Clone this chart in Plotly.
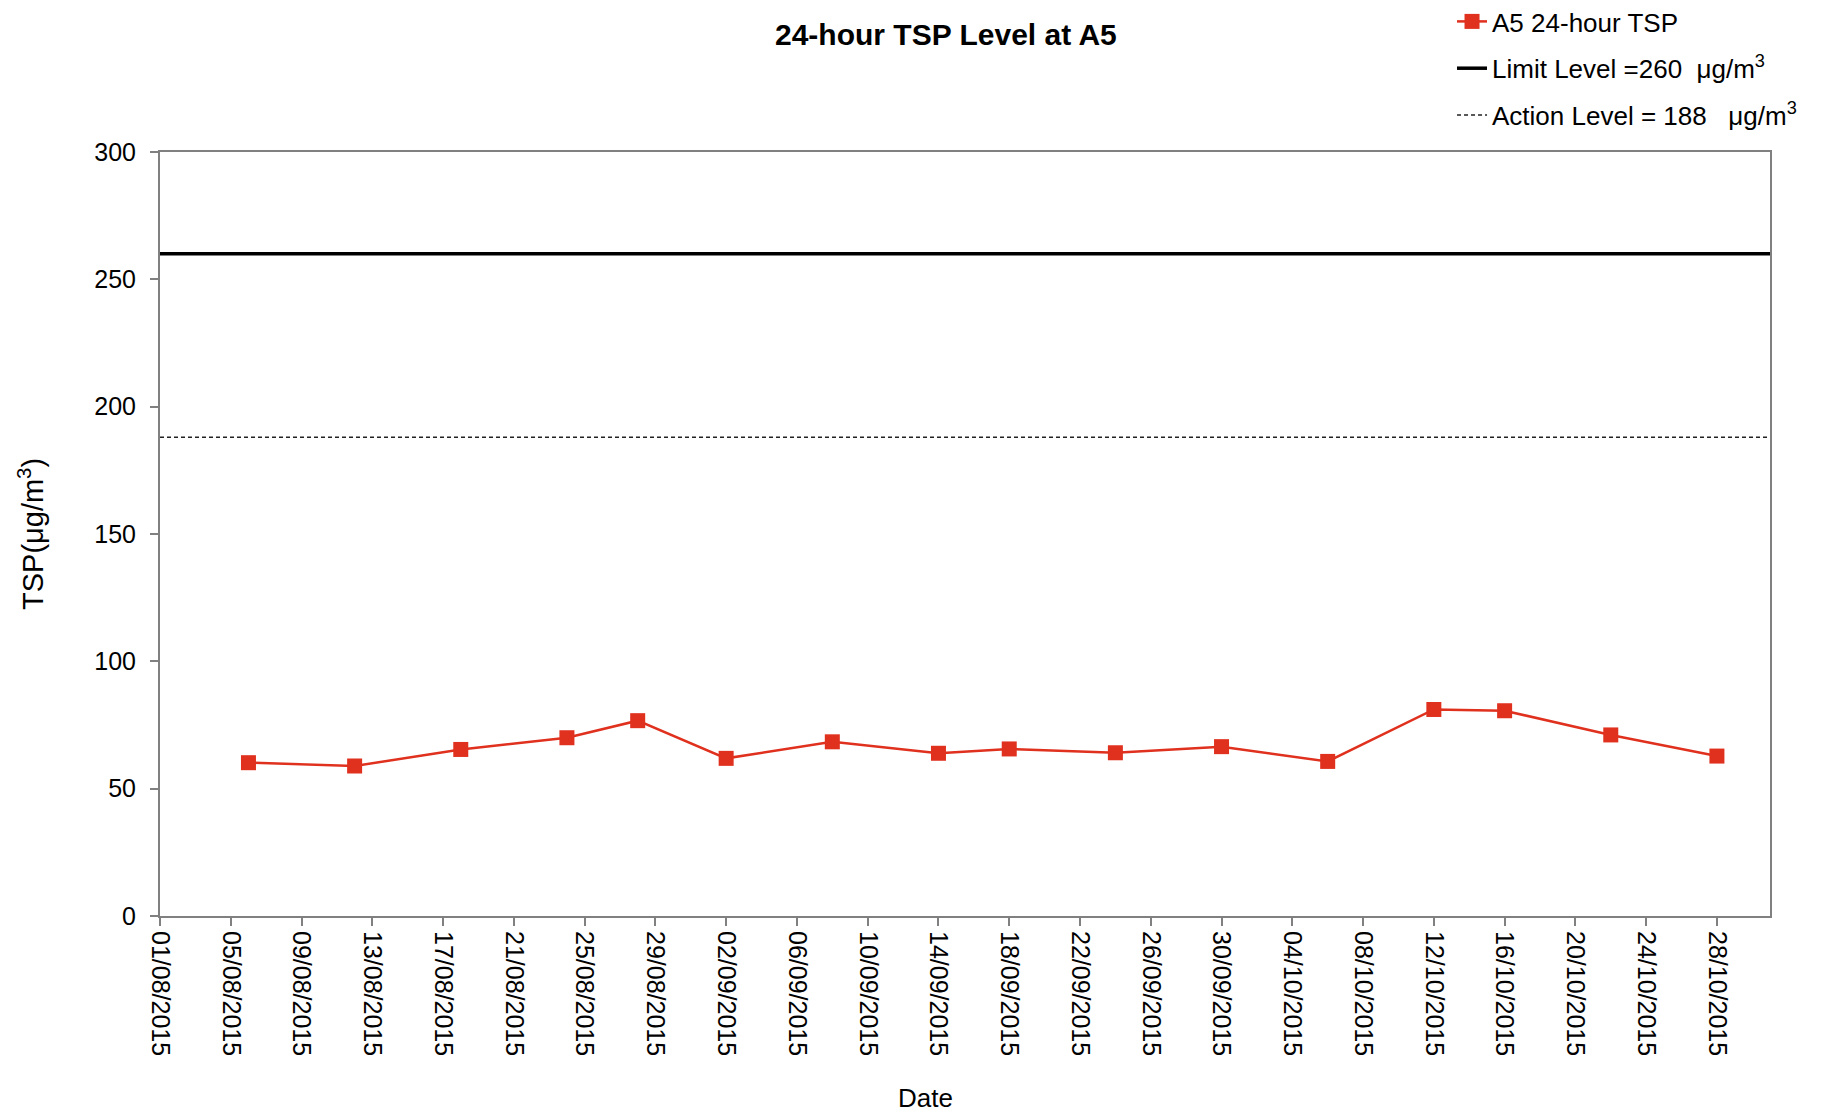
import plotly.graph_objects as go

# ---- data ----
dates = ["2015-08-06", "2015-08-12", "2015-08-18", "2015-08-24", "2015-08-28",
         "2015-09-02", "2015-09-08", "2015-09-14", "2015-09-18", "2015-09-24",
         "2015-09-30", "2015-10-06", "2015-10-12", "2015-10-16", "2015-10-22",
         "2015-10-28"]
tsp = [60.2, 58.9, 65.4, 70.0, 76.7, 61.9, 68.4, 63.9, 65.6, 64.1,
       66.5, 60.7, 81.1, 80.6, 71.1, 62.8]
limit_level = 260
action_level = 188
x_start = "2015-08-01"
x_end = "2015-10-31"

FONT = "Liberation Sans, Arial, sans-serif"
RED = "#E0301E"
AXIS = "#808080"

fig = go.Figure()

fig.add_trace(go.Scatter(
    x=dates, y=tsp, mode="lines+markers", name="A5 24-hour TSP",
    line=dict(color=RED, width=2.5),
    marker=dict(symbol="square", size=15, color=RED),
    legendgroup="a",
))
fig.add_trace(go.Scatter(
    x=[x_start, x_end], y=[limit_level, limit_level], mode="lines",
    name="Limit Level =260  \u03bcg/m<sup>3</sup>",
    line=dict(color="black", width=3.5),
    legendgroup="b",
))
fig.add_trace(go.Scatter(
    x=[x_start, x_end], y=[action_level, action_level], mode="lines",
    name="Action Level = 188   \u03bcg/m<sup>3</sup>",
    line=dict(color="#222222", width=1.5, dash="4px,3px"),
    legendgroup="c",
))

fig.update_layout(
    width=1821, height=1114,
    margin=dict(l=152, r=59, t=144, b=206, autoexpand=False),
    paper_bgcolor="white", plot_bgcolor="white",
    font=dict(family=FONT, size=22, color="black"),
    showlegend=True,
    legend=dict(
        x=0.8025, y=(916 + 2) / 764, xanchor="left", yanchor="top",
        font=dict(family=FONT, size=26, color="black"),
        tracegroupgap=10, traceorder="grouped",
        bgcolor="rgba(0,0,0,0)",
    ),
    annotations=[
        dict(text="<b>24-hour TSP Level at A5</b>", xref="paper", yref="paper",
             x=(946 - 160) / 1610, y=(916 - 34) / 764, xanchor="center", yanchor="middle",
             showarrow=False, font=dict(family=FONT, size=30, color="black")),
        dict(text="Date", xref="paper", yref="paper",
             x=(925 - 160) / 1610, y=(916 - 1098) / 764, xanchor="center", yanchor="middle",
             showarrow=False, font=dict(family=FONT, size=26, color="black")),
        dict(text="TSP(\u03bcg/m<sup>3</sup>)", xref="paper", yref="paper",
             x=(31 - 160) / 1610, y=0.5, xanchor="center", yanchor="middle",
             textangle=-90, showarrow=False,
             font=dict(family=FONT, size=29, color="black")),
    ],
)

fig.update_xaxes(
    type="date", range=[x_start, x_end],
    tick0=x_start, dtick=4 * 86400000, tickformat="%d/%m/%Y",
    tickangle=90, ticks="outside", ticklen=8, tickcolor=AXIS, tickwidth=1.5,
    tickfont=dict(family=FONT, size=25),
    showline=True, linecolor=AXIS, linewidth=2, mirror=True,
    showgrid=False, zeroline=False,
)
fig.update_yaxes(
    range=[0, 300], tick0=0, dtick=50,
    ticks="outside", ticklen=8, tickcolor=AXIS, tickwidth=1.5,
    tickfont=dict(family=FONT, size=25), ticklabelstandoff=9,
    showline=True, linecolor=AXIS, linewidth=2, mirror=True,
    showgrid=False, zeroline=False,
)

fig.write_html("out.html")
